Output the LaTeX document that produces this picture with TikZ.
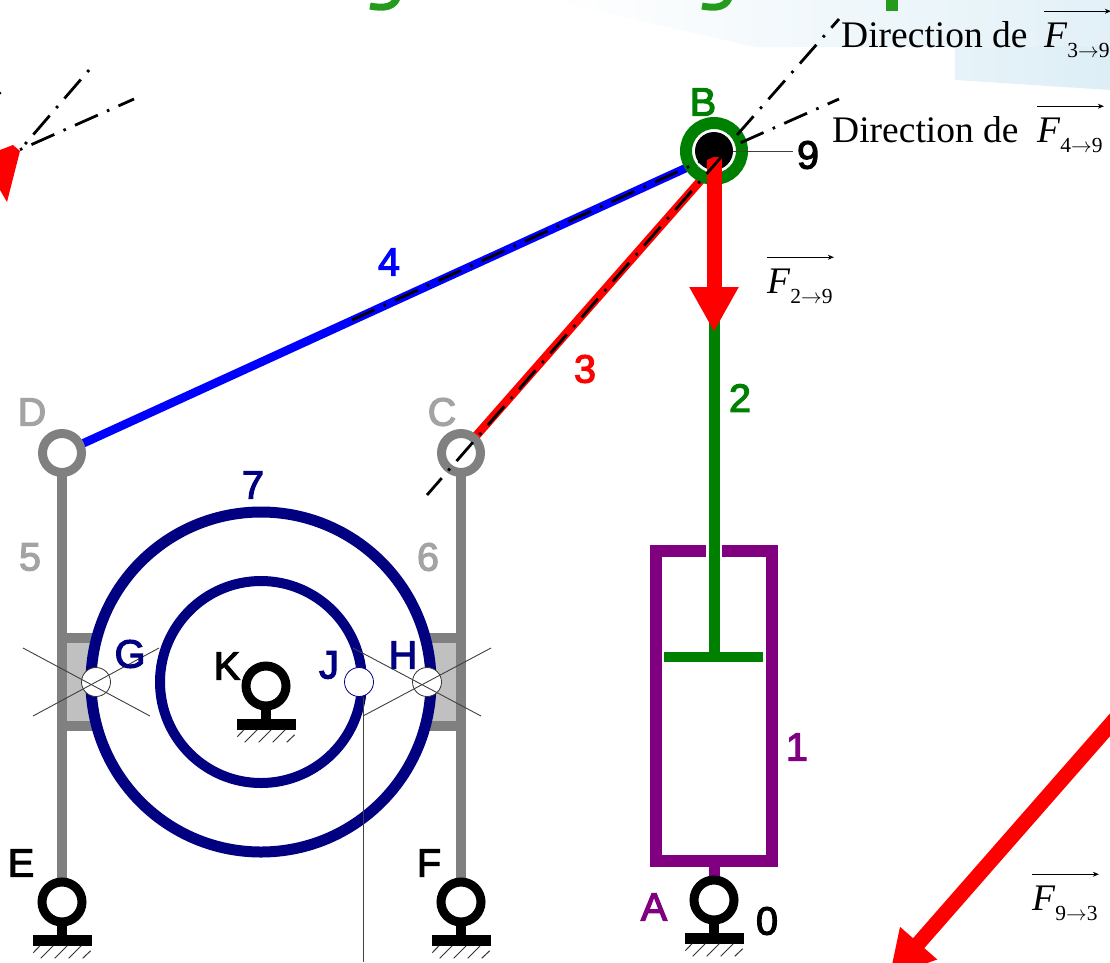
\documentclass[tikz,border=0pt]{standalone}
\usepackage{fontspec}
\setmainfont{Liberation Serif}
\newfontfamily\partfont[FakeBold=3]{Liberation Sans}
\usetikzlibrary{arrows.meta}
\definecolor{titlegreen}{HTML}{259B1E}
\definecolor{skyblue}{HTML}{DDEEF6}
\definecolor{linkgray}{HTML}{808080}
\definecolor{labgray}{HTML}{A3A3A3}
\definecolor{boxgray}{HTML}{C0C0C0}
\definecolor{wheelblue}{HTML}{000080}
\definecolor{bodypurple}{HTML}{800080}
\definecolor{rodgreen}{HTML}{008000}
% ground pivot: ring, stem, base, hatching
\newcommand{\groundpivot}[1]{
    \begin{scope}[shift={(#1)}]
        \draw [line width=10pt] (0,0) -- (0,40);
        \fill (-29.5,33) rectangle (29.5,44);
        \draw [line width=9pt, fill=white] (0,0) circle (20);
        \draw [hatch] (-28.7,50.7) -- (-22,43.7);
        \foreach \x in {-21.3,-7.3,6.7}
            \draw [hatch] (\x,56.3) -- (\x+12.6,43.7);
        \draw [hatch] (20.7,56.3) -- (28.7,48.7);
    \end{scope}
}
% force name with its arrow above
\newcommand{\forcelabel}[3]{
    \node [forcetext] (#1) at (#2) {\textit{F}\raisebox{-10pt}{\fontsize{21.5}{21.5}\selectfont #3}};
    \draw [vecarrow] ([yshift=11pt]#1.north west) -- ([xshift=1pt,yshift=11pt]#1.north east);
}

\begin{document}
\begin{tikzpicture}[x=1pt, y=-1pt,
    part/.style={font=\partfont\fontsize{39.5}{39.5}\selectfont, inner sep=0},
    hatch/.style={line width=1pt, black!80},
    axis/.style={line width=2.8pt, dash pattern=on 25pt off 10pt on 2.6pt off 10pt},
    fine/.style={line width=0.9pt, black!75},
    force/.style={red, line width=15pt, -{Triangle[length=45pt,width=46pt]}},
    forcetext/.style={font=\fontsize{37.5}{37.5}\selectfont, anchor=base west, inner sep=0},
    dirtext/.style={font=\fontsize{37.5}{37.5}\selectfont, anchor=base west, inner sep=0},
    vecarrow/.style={line width=0.9pt, -{Stealth[length=6pt,width=5pt]}}]
    \useasboundingbox (0,0) rectangle (1110,962);
    \clip (0,0) rectangle (1110,962);
    % main points
    \coordinate (A) at (714,900);
    \coordinate (B) at (714,151);
    \coordinate (C) at (461,453);
    \coordinate (D) at (62,453);
    \coordinate (E) at (62,902);
    \coordinate (F) at (461,902);
    \coordinate (K) at (266,686);
    \coordinate (O) at (261,682);
    \coordinate (G) at (96,682);
    \coordinate (H) at (427,682);
    \coordinate (J) at (359,682);
    \coordinate (B3) at (723,155);
    \coordinate (B4) at (721,152);
    % banner and cut title
    \shade [left color=white, right color=skyblue!85] (548,0) -- (755,47) -- (1110,47) -- (1110,0) -- cycle;
    \shade [left color=skyblue!70, right color=skyblue] (955,47) -- (955,80) -- (1110,90) -- (1110,47) -- cycle;
    \draw [titlegreen, line width=7pt] (370,6) .. controls (385,9) and (396,7) .. (398,-6);
    \draw [titlegreen, line width=7pt] (702,6) .. controls (717,9) and (728,7) .. (730,-6);
    \fill [titlegreen] (886,0) rectangle (898,11);
    % rods and sliders
    \draw [linkgray, line width=10.5pt] (D) -- (E);
    \draw [linkgray, line width=10.5pt] (C) -- (F);
    \draw [linkgray, line width=10.5pt, fill=boxgray] (62,638) rectangle (130,726);
    \draw [linkgray, line width=10.5pt, fill=boxgray] (461,638) rectangle (393,726);
    % wheel 7
    \draw [wheelblue, line width=11pt, fill=white] (O) circle (170);
    \draw [wheelblue, line width=10pt] (O) circle (101);
    % links
    \draw [blue, line width=8.5pt] (D) -- (B4);
    \draw [red, line width=8.5pt] (C) -- (B3);
    \draw [linkgray, line width=9pt, fill=white] (D) circle (19.5);
    \draw [linkgray, line width=9pt, fill=white] (C) circle (19.5);
    % jack
    \draw [rodgreen, line width=11pt] (B) -- (714,657);
    \draw [rodgreen, line width=10pt] (664,657) -- (763,657);
    \draw [bodypurple, line width=11.5pt] (706,551) -- (656,551) -- (656,861) -- (772,861) -- (772,551) -- (722,551);
    \draw [bodypurple, line width=11pt] (714,867) -- (A);
    % joint B
    \draw [rodgreen, line width=12pt, fill=white] (B) circle (28);
    \node [circle, fill=black, minimum size=38pt, inner sep=0] (disc) at (B) {};
    \groundpivot{A}
    \groundpivot{E}
    \groundpivot{F}
    \groundpivot{K}
    % support lines at G, H, J
    \draw [draw=black!80, fill=white, line width=0.8pt] (G) circle (14.5);
    \draw [draw=black!80, fill=white, line width=0.8pt] (H) circle (14.5);
    \draw [draw=wheelblue, fill=white, line width=0.8pt] (J) circle (14.5);
    \draw [fine] (23,648) -- (150,716);
    \draw [fine] (33,716) -- (159,648);
    \draw [fine] (353,648) -- (481,716);
    \draw [fine] (363,716) -- (491,648);
    \draw [fine] (363,697) -- (363,962);
    % forces
    \coordinate (Bforce) at (714,157);
    \coordinate (Btip) at (714,332);
    \draw [force] (Bforce) -- (Btip);
    \coordinate (Rstart) at (1130,702);
    \coordinate (Rtip) at (889,977);
    \draw [force] (Rstart) -- (Rtip);
    \fill [red] (13,145) -- (20,151) -- (7,202) -- (0,190) -- (0,150) -- cycle;
    % directions
    \draw [axis] (737,135) -- (839,19);
    \draw [axis] (740.7,142.7) -- (839,99);
    \draw [axis] (B4) -- (352,320);
    \draw [axis] (B3) -- (427,495);
    \draw [axis, dash phase=35pt] (89,70) -- (20,150);
    \draw [axis, dash phase=8pt] (134,99) -- (17,151);
    \fill (0,93) circle (1.5);
    % part names
    \node [part, rodgreen] (labB) at (703,102) {B};
    \node [part] (lab9) at (808,155) {9};
    \coordinate (lead9) at (793,151);
    \draw [fine] (disc.east) -- (lead9);
    \node [part, blue] (lab4) at (389,262) {4};
    \node [part, red] (lab3) at (585,369) {3};
    \node [part, rodgreen] (lab2) at (740,398) {2};
    \node [part, labgray] (labD) at (32,412) {D};
    \node [part, labgray] (labC) at (442,412) {C};
    \node [part, labgray] (lab5) at (30,557) {5};
    \node [part, labgray] (lab6) at (428,557) {6};
    \node [part, wheelblue] (lab7) at (253,485) {7};
    \node [part, wheelblue] (labG) at (130,654) {G};
    \node [part] (labK) at (227,666) {K};
    \node [part, wheelblue] (labJ) at (329,665) {J};
    \node [part, wheelblue] (labH) at (403,655) {H};
    \node [part] (labE) at (21,863) {E};
    \node [part] (labF) at (429,863) {F};
    \node [part, bodypurple] (lab1) at (797,747) {1};
    \node [part, bodypurple] (labA) at (654,907) {A};
    \node [part] (lab0) at (767,921) {0};
    % force names
    \node [dirtext] (dir39) at (841,47) {Direction de};
    \node [dirtext] (dir49) at (832,142) {Direction de};
    \forcelabel{F39}{1044,47}{3$\rightarrow$9}
    \forcelabel{F49}{1037,142}{4$\rightarrow$9}
    \forcelabel{F29}{767,293}{2$\rightarrow$9}
    \forcelabel{F93}{1032,910}{9$\rightarrow$3}
\end{tikzpicture}
\end{document}
